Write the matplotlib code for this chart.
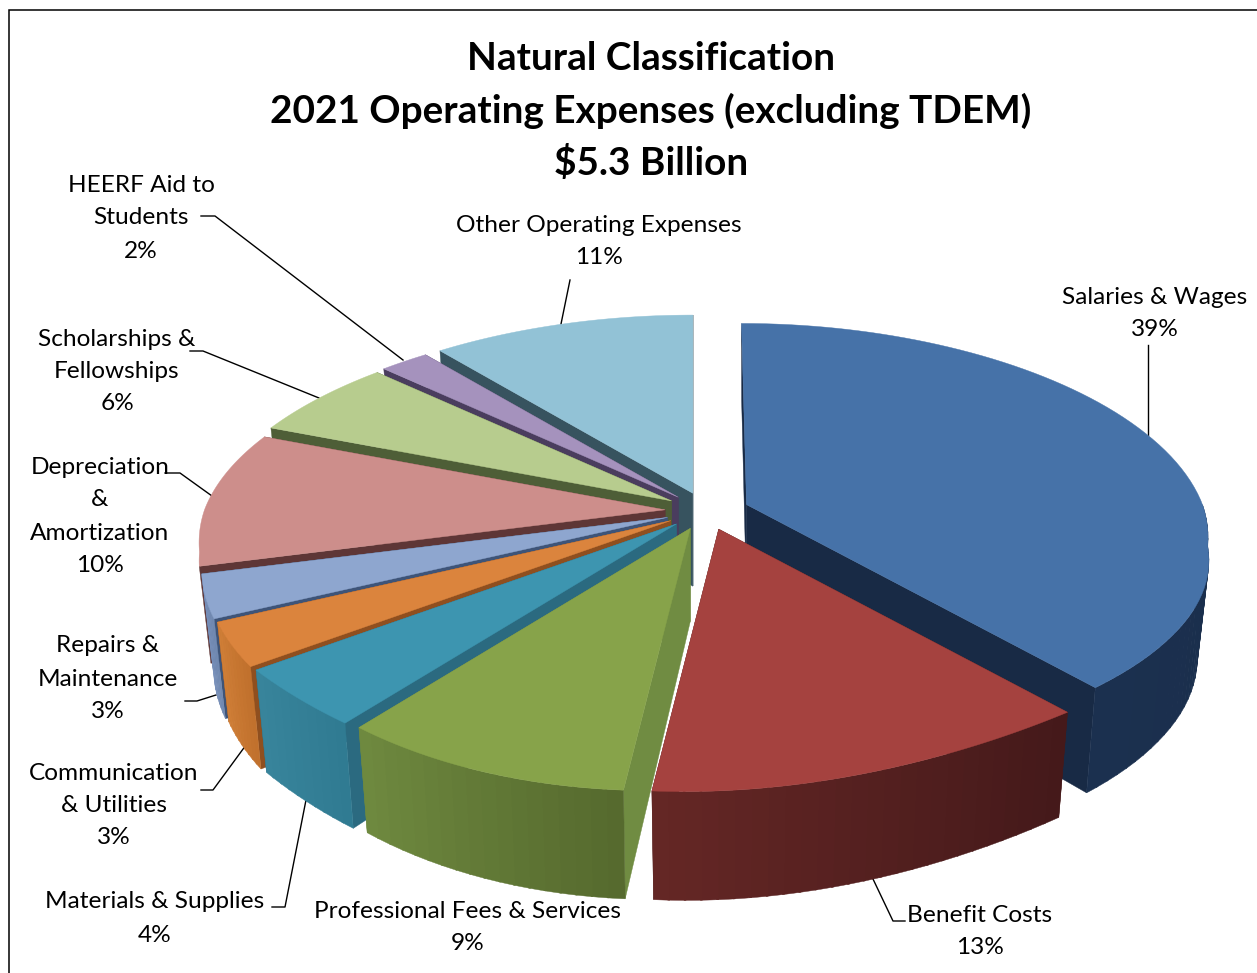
import numpy as np
import matplotlib
matplotlib.use("Agg")
import matplotlib.pyplot as plt
from matplotlib.colors import to_rgb
from matplotlib.patches import Polygon

# Expense categories, clockwise from twelve o'clock
categories = ["Salaries & Wages", "Benefit Costs", "Professional Fees & Services",
              "Materials & Supplies", "Communication & Utilities", "Repairs & Maintenance",
              "Depreciation & Amortization", "Scholarships & Fellowships",
              "HEERF Aid to Students", "Other Operating Expenses"]
shares = [39, 13, 9, 4, 3, 3, 10, 6, 2, 11]

title_lines = ["Natural Classification", "2021 Operating Expenses (excluding TDEM)", "$5.3 Billion"]

top_colors = ["#4672a8", "#a5423f", "#87a34a", "#3d95b0", "#db843d",
              "#8ea6cf", "#cd8e8b", "#b7cc8e", "#a592bd", "#92c2d6"]
wall_left = ["#1b304f", "#652725", "#6f8a3f", "#38849c", "#d07f38",
             "#7d95c0", "#a87270", "#8fa06d", "#82739a", "#5f8fa3"]
wall_right = ["#182a45", "#44191a", "#55692e", "#307a91", "#c0702c",
              "#7088b0", "#a06c6a", "#879a66", "#7a6c92", "#598a9e"]
cut_colors = ["#182a45", "#4a1c1b", "#708c42", "#2b6a80", "#8f4f1f",
              "#3e5478", "#5e3636", "#4e5e37", "#4a3d5e", "#37535f"]

# One label per slice: wrapped lines, centre x, vertical centre of each line
label_lines = [["Salaries & Wages"], ["Benefit Costs"], ["Professional Fees & Services"],
               ["Materials & Supplies"], ["Communication", "& Utilities"],
               ["Repairs &", "Maintenance"], ["Depreciation", "&", "Amortization"],
               ["Scholarships &", "Fellowships"], ["HEERF Aid to", "Students"],
               ["Other Operating Expenses"]]
label_x = [1155, 980, 468, 155, 114, 108, 100, 117, 141, 599]
label_y = [[298, 330], [915, 947], [912, 944], [902, 935], [773, 806, 838],
           [646, 679, 711], [468, 500, 534, 566], [339, 371, 403], [186, 218, 251], [226, 258]]

leaders = [
    [(1148, 345), (1148, 435)],
    [(873, 879), (893, 921), (905, 921)],
    [],
    [(272, 907), (285, 907), (306, 800)],
    [(201, 790), (213, 790), (246, 745)],
    [(185, 701), (197, 701), (216, 695)],
    [(165, 473), (180, 473), (212, 496)],
    [(190, 351), (203, 351), (319, 398)],
    [(201, 216), (215, 216), (403, 360)],
    [(570, 280), (561, 324)],
]

FONT = "Lato"
W, H = 1257, 973
CX, CY = 707, 511      # pie centre on the page
RX, RY = 456, 212      # radii of the top face before perspective
EXPLODE = 42           # pull-out distance of every slice
DEPTH = 93             # wall height at mid depth

# Horizontal foreshortening against depth (-1 nearest the viewer, +1 farthest),
# slightly different on the two sides because the view is off-centre
DEPTH_AXIS = [-1, -0.77, -0.59, -0.19, 0, 0.368, 0.77, 1]
X_SCALE_RIGHT = [1.18, 1.20, 1.145, 1.03, 1.0, 0.937, 0.87, 0.83]
X_SCALE_LEFT = [1.17, 1.14, 1.14, 1.04, 1.01, 0.945, 0.87, 0.83]


def rim(theta, apex, drop=False):
    """Project a point on the slice rim; theta is clockwise from the back."""
    sx, cy = np.sin(theta), np.cos(theta)
    table = X_SCALE_RIGHT if sx >= 0 else X_SCALE_LEFT
    x = RX * sx * np.interp(cy, DEPTH_AXIS, table)
    y = -RY * cy / (1 + 0.19 * cy)
    if cy < 0:
        y -= 0.04 * x * cy ** 2     # the near edge tips down toward the left
    elif sx >= 0:
        x -= 5 * cy                 # the far right edge leans slightly inward
        y -= 3 * cy
    if drop:
        return apex[0] + x * 0.975, apex[1] + y + DEPTH * (1 - 0.17 * cy)
    return apex[0] + x, apex[1] + y


def poly(ax, pts, color):
    ax.add_patch(Polygon(pts, closed=True, facecolor=color, edgecolor=color, lw=0.3))


def mix(a, b, t):
    a, b = np.array(to_rgb(a)), np.array(to_rgb(b))
    return tuple(a + (b - a) * t)


def wall_visible(theta):
    """The outer wall shows on the near side; on the left it starts further round."""
    limit = 0 if np.sin(theta) >= 0 else -0.3
    return np.cos(theta) <= limit


fig = plt.figure(figsize=(W / 100, H / 100), dpi=100)
ax = fig.add_axes([0, 0, 1, 1])
ax.set_xlim(0, W)
ax.set_ylim(H, 0)
ax.axis("off")

# Page frame, open on the right and at the bottom
ax.plot([W, 9, 9], [9.5, 9.5, H], color="black", lw=1.1, solid_joinstyle="miter")

edges = np.radians(np.cumsum([0] + shares) * 3.6)
mids = (edges[:-1] + edges[1:]) / 2

# Slice labels' leader lines sit underneath the pie so they end at its edge
for path in leaders:
    if path:
        xs, ys = zip(*path)
        ax.plot(xs, ys, color="black", lw=1.0, zorder=0.5)

# Paint from the back of the pie to the front
for i in np.argsort(-np.cos(mids)):
    a0, a1, mid = edges[i], edges[i + 1], mids[i]
    apex = (CX + EXPLODE * np.sin(mid), CY - EXPLODE * 0.45 * np.cos(mid))
    apex_low = (apex[0], apex[1] + DEPTH)
    # Radial cut faces
    for a in (a0, a1):
        poly(ax, [apex, rim(a, apex), rim(a, apex, True), apex_low], cut_colors[i])
    # Curved outer wall in narrow shaded bands
    angles = np.linspace(a0, a1, max(10, shares[i] * 2) + 1)
    n_bands = len(angles) - 1
    for j in range(n_bands):
        t0 = angles[j]
        t1 = min(angles[j + 1] + 0.004, a1)
        if not wall_visible((t0 + t1) / 2):
            continue
        shade = mix(wall_right[i], wall_left[i], (j + 0.5) / n_bands)
        fine = np.linspace(t0, t1, 6)
        pts = [rim(t, apex) for t in fine] + [rim(t, apex, True) for t in fine[::-1]]
        poly(ax, pts, shade)
    # Top face
    arc = np.linspace(a0, a1, 80)
    poly(ax, [apex] + [rim(t, apex) for t in arc], top_colors[i])

# Title
for line, y in zip(title_lines, (59, 111, 163)):
    ax.text(651, y, line, ha="center", va="center", fontsize=27.9, fontweight="bold",
            family=FONT, color="black")

# Slice labels
for i, lines in enumerate(label_lines):
    rows = lines + [f"{shares[i]}%"]
    for text, y in zip(rows, label_y[i]):
        ax.text(label_x[i], y, text, ha="center", va="center", fontsize=17.6,
                family=FONT, color="black")

fig.savefig("out.png", dpi=100)
